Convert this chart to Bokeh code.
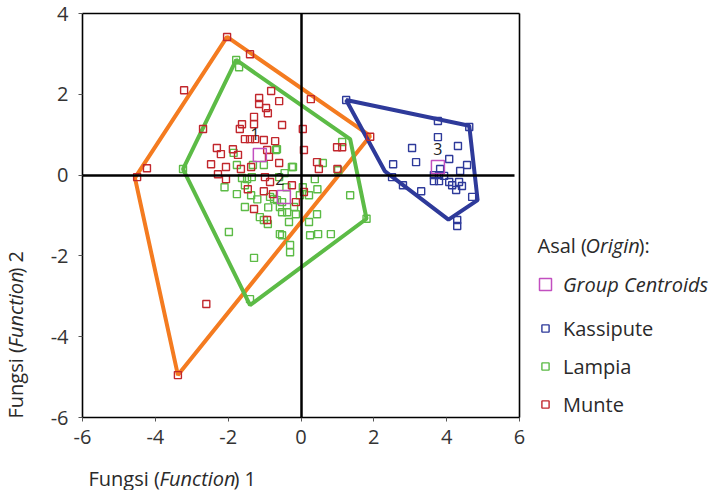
import numpy as np
from bokeh.plotting import figure
from bokeh.models import (Label, Legend, LegendItem, LinearAxis, FixedTicker, Range1d)
from bokeh.embed import file_html
from bokeh.resources import INLINE
from bokeh.core.properties import value

# ---------------- data ----------------
munte_x = [-2.03, -1.40, -3.21, -2.69, -0.82, -1.15, -1.15, -0.96, -0.91, -0.60, 0.27, -1.29,
           -1.29, -1.62, -1.68, -0.52, 0.05, -1.54, -1.40, -1.26, -1.02, -0.71, -2.31, -2.20,
           -1.87, -1.73, 0.08, -2.47, -2.06, 0.44, 0.49, 0.99, 1.13, 1.90, -4.23, -4.50,
           -2.28, -2.06, -1.65, -1.37, -0.93, -0.88, -0.99, -0.85, -0.25, -1.46, -1.02, -0.77,
           0.08, -0.14, -1.29, -0.93, -2.60, -3.38, 1.00, -0.60]
munte_y = [3.42, 2.99, 2.10, 1.14, 2.08, 1.91, 1.76, 1.66, 1.53, 1.83, 1.88, 1.44,
           1.26, 1.26, 1.14, 1.24, 1.14, 0.89, 0.89, 0.89, 0.87, 0.84, 0.67, 0.52,
           0.64, 0.50, 0.62, 0.27, 0.20, 0.32, 0.15, 0.69, 0.69, 0.95, 0.17, -0.05,
           0.02, -0.10, 0.15, 0.20, 0.62, 0.45, -0.05, -0.17, -0.25, -0.35, -0.40, -0.47,
           -0.42, -0.67, -0.84, -1.11, -3.19, -4.95, 0.15, 0.30]

lampia_x = [-1.78, -3.24, -0.69, -0.22, 1.13, 1.02, 1.35, 1.80, 0.82, 0.47, 0.25, 0.22,
            0.44, 0.38, -0.03, -0.19, -0.33, -0.38, -0.52, -0.58, -0.58, -0.30, -0.30, -0.52,
            -1.13, -1.02, -0.91, -1.29, -1.40, -1.98, -1.54, -1.76, -1.37, -1.54, -1.62, -1.48,
            -1.35, -1.02, -1.32, -1.76, -0.66, -0.25, -0.85, -0.74, -0.66, -0.52, -0.14, 0.22,
            0.05, -0.60, -1.85, -2.10, -0.40, -0.90, -1.20, 0.60, 0.45, -0.45, -1.70]
lampia_y = [2.85, 0.15, 0.62, 0.20, 0.82, 0.12, -0.50, -1.08, -1.46, -1.46, -1.49, -1.16,
            -0.97, -0.10, -0.50, -0.79, -1.16, -0.92, -0.92, -0.79, -1.46, -1.73, -1.91, -1.49,
            -1.04, -1.11, -1.21, -2.05, -3.07, -1.41, -0.79, -0.47, -0.50, -0.25, -0.07, -0.10,
            -0.05, 0.25, 0.25, 0.25, 0.64, 0.20, -0.54, -0.59, -0.62, -0.67, -0.97, -0.50,
            -0.30, -0.05, 0.55, -0.30, -0.30, -0.80, -0.60, 0.30, -0.35, 0.05, 2.67]

kassi_x = [1.24, 3.76, 4.62, 3.76, 3.05, 4.31, 4.07, 3.16, 2.53, 4.56, 4.37, 3.82,
           3.65, 3.79, 3.65, 3.79, 3.93, 2.50, 2.80, 3.30, 4.07, 4.15, 4.34, 4.42,
           4.26, 4.70, 4.29, 4.29]
kassi_y = [1.86, 1.34, 1.19, 0.94, 0.67, 0.72, 0.40, 0.32, 0.27, 0.25, 0.10, 0.15,
           0.00, 0.00, -0.15, -0.15, -0.02, -0.05, -0.25, -0.40, -0.17, -0.25, -0.17, -0.27,
           -0.37, -0.54, -1.11, -1.26]

centroid_x = [-1.13, -0.47, 3.76]
centroid_y = [0.50, -0.54, 0.20]
centroid_labels = ["1", "2", "3"]
label_x = [-1.26, -0.58, 3.76]
label_y = [1.01, -0.10, 0.64]

hull_munte_x = [-2.03, 1.90, -3.38, -4.56]
hull_munte_y = [3.42, 0.97, -4.95, -0.07]
hull_lampia_x = [-1.78, 1.35, 1.80, -1.40, -3.24]
hull_lampia_y = [2.85, 0.89, -1.08, -3.22, 0.15]
hull_kassi_x = [1.24, 4.62, 4.85, 4.05, 2.30]
hull_kassi_y = [1.86, 1.22, -0.62, -1.10, 0.10]

x_ticks = [-6, -4, -2, 0, 2, 4, 6]
y_ticks = [-6, -4, -2, 0, 2, 4]
x_lim = (-6, 6)
y_lim = (-6, 4)

# ---------------- styling / layout ----------------
FONT = "Open Sans"
FS = "20px"
ORANGE = "#f47b20"
GREEN = "#5cbb46"
BLUE = "#2e3a9a"
RED = "#c1272d"
MAGENTA = "#c24fc0"
TXT = "#2a2a2a"

W, H = 724, 490
BOX_L, BOX_R, BOX_T, BOX_B = 82, 519, 13, 417   # pixel box of the plotting area

sx = (BOX_R - BOX_L) / (x_lim[1] - x_lim[0])
sy = (BOX_B - BOX_T) / (y_lim[1] - y_lim[0])
x0 = x_lim[0] - BOX_L / sx
y1 = y_lim[1] + BOX_T / sy

p = figure(width=W, height=H,
           x_range=Range1d(x0, x0 + W / sx), y_range=Range1d(y1 - H / sy, y1),
           x_axis_location=None, y_axis_location=None,
           output_backend="svg", toolbar_location=None,
           min_border_left=0, min_border_right=0, min_border_top=0, min_border_bottom=0)
p.grid.visible = False
p.outline_line_color = None
p.background_fill_color = "white"
p.border_fill_color = "white"


def dx(px):
    return x0 + px / sx


def dy(py):
    return y1 - py / sy


def make_axis(fixed, bounds, ticks=None, width=1.6):
    ax = LinearAxis(fixed_location=fixed, bounds=bounds,
                    ticker=FixedTicker(ticks=ticks if ticks else []))
    ax.axis_line_color = "black"
    ax.axis_line_width = width
    ax.minor_tick_line_color = None
    ax.major_tick_out = 4
    ax.major_tick_in = 0
    ax.major_tick_line_color = "#555555"
    ax.major_label_text_font = FONT
    ax.major_label_text_font_size = FS
    ax.major_label_text_color = "#333333"
    if ticks:
        ax.major_label_overrides = {t: str(t) for t in ticks}
    else:
        ax.major_label_text_color = None
        ax.major_tick_line_color = None
    return ax


# box axes
xa = make_axis(y_lim[0], x_lim, x_ticks)
xa.major_label_standoff = 8
ya = make_axis(x_lim[0], y_lim, y_ticks)
ya.major_label_standoff = 10
p.add_layout(xa, "below")
p.add_layout(ya, "left")
p.add_layout(make_axis(y_lim[1], x_lim), "above")
p.add_layout(make_axis(x_lim[1], y_lim), "right")
# zero axes
zx = make_axis(0, (x_lim[0], 5.85), width=2.5)
zy = make_axis(0, y_lim, width=2.5)
p.add_layout(zx, "below")
p.add_layout(zy, "left")

# hulls
p.patch(hull_munte_x, hull_munte_y, fill_color=None, line_color=ORANGE, line_width=4)
p.patch(hull_lampia_x, hull_lampia_y, fill_color=None, line_color=GREEN, line_width=4)
p.patch(hull_kassi_x, hull_kassi_y, fill_color=None, line_color=BLUE, line_width=4)

# points
r_k = p.scatter(kassi_x, kassi_y, marker="square", size=7, fill_color="white",
                fill_alpha=0.0, line_color=BLUE, line_width=1.4)
r_l = p.scatter(lampia_x, lampia_y, marker="square", size=7, fill_color="white",
                fill_alpha=0.0, line_color=GREEN, line_width=1.4)
r_m = p.scatter(munte_x, munte_y, marker="square", size=7, fill_color="white",
                fill_alpha=0.0, line_color=RED, line_width=1.4)
r_c = p.scatter(centroid_x, centroid_y, marker="square", size=13, fill_color=None,
                line_color=MAGENTA, line_width=1.5)
p.text(label_x, label_y, text=centroid_labels, text_font=value(FONT),
       text_font_size="16px", text_color="#222222", text_align="center",
       text_baseline="middle")


# texts with mixed italic pieces
def piece(px, py, txt, italic=False, angle=0.0):
    p.add_layout(Label(x=dx(px), y=dy(py), text=txt, text_font=FONT, text_font_size=FS,
                       text_color=TXT, text_baseline="middle", text_align="left",
                       text_font_style="italic" if italic else "normal", angle=angle))


piece(88, 478, "Fungsi (")
piece(159, 478, "Function", italic=True)
piece(233, 478, ") 1")

piece(15, 418, "Fungsi  (", angle=np.pi / 2)
piece(15, 347, "Function", italic=True, angle=np.pi / 2)
piece(15, 273, ") 2", angle=np.pi / 2)

piece(537, 245, "Asal (")
piece(585, 245, "Origin", italic=True)
piece(638, 245, "):")

legA = Legend(items=[LegendItem(label="Group Centroids", renderers=[r_c])],
              location=(530, H - 299), glyph_width=30, glyph_height=30, label_standoff=3,
              padding=0, margin=0, border_line_color=None, background_fill_alpha=0,
              label_text_font=FONT, label_text_font_size=FS, label_text_font_style="italic",
              label_text_color=TXT)
legB = Legend(items=[LegendItem(label="Kassipute", renderers=[r_k]),
                     LegendItem(label="Lampia", renderers=[r_l]),
                     LegendItem(label="Munte", renderers=[r_m])],
              location=(536, H - 417.5), glyph_width=18, glyph_height=18, label_standoff=9,
              label_height=20, spacing=11,
              padding=0, margin=0, border_line_color=None, background_fill_alpha=0,
              label_text_font=FONT, label_text_font_size=FS,
              label_text_color=TXT)
p.add_layout(legA)
p.add_layout(legB)

open("out.html", "w").write(file_html(p, INLINE))
